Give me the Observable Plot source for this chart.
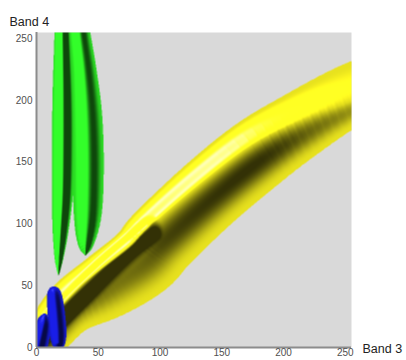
<!DOCTYPE html>
<html><head><meta charset="utf-8">
<script src="https://cdn.jsdelivr.net/npm/d3@7"></script>
<script src="https://cdn.jsdelivr.net/npm/@observablehq/plot@0.6"></script>
<style>body{margin:0;background:#fff} #chart{width:406px;height:360px}</style>
</head><body><div id="chart"></div>
<script>
// ---- data, in Band 3 / Band 4 units ----
const xTicks = [0, 50, 100, 150, 200, 250];
const yTicks = [0, 50, 100, 150, 200, 250];
const xLabel = "Band 3";
const yLabel = "Band 4";
const xDomain = [0, 255];
const yDomain = [0, 255];
// ridge vertices of each class density:
// [band3, band4, spread on upper-left side, spread on lower-right side, relative density]
const greenLeft = [[17.8,59,0.5,0.5,0.3],[18.2,72,3.5,3.5,0.7],[19.5,95,6.5,6.5,0.9],[21,125,8.5,8.5,1],[21.5,165,9,9,1],[21.5,205,8.5,8.5,1],[21,253,6.5,6.5,0.9],[20.5,285,5,5,0.8]];
const greenRight = [[39.5,75,0.5,0.5,0.2],[40,86,7,7,0.45],[41.5,110,11.5,11.5,0.6],[42,150,12.5,12.5,0.65],[41,190,12,12,0.65],[38.5,225,10,10,0.6],[35,255,8.5,8.5,0.55],[32.5,285,6.5,6.5,0.5]];
const yellowMain = [[-6.5,-5.6,12,14,0.35],[0,5.6,13,22,0.45],[21.9,37.8,14,30,0.55],[49.4,60.3,14.5,40,0.6],[76.1,80.5,15.5,44,0.75],[92.3,98.2,16.5,44,0.95],[132.8,132.8,19.2,41,1],[173.3,163.3,21,38.5,0.95],[213.8,183.5,24.5,30,0.5],[254.3,199,30,20,0.2],[294.7,215,30,18,0.15]];
const yellowLower = [[2,12,8,14,0.35],[7.3,19.7,9,18,0.55],[51.8,66,9,20,0.65],[89.1,98.1,9,18,0.55]];
const blueTall = [[14,46.5,3,3,0.3],[14.5,42,6,6,0.8],[16,28,7,7,1],[17.3,12,7,7,1],[17.8,4,5.5,5.5,0.8]];
const blueCorner = [[1,-1,7.5,7.5,1],[3,8,7.5,7.5,1],[5.5,19,6,6,0.8],[6.5,25,2.5,2.5,0.3]];

// ---- styles ----
const classes = [
  {tubes: [blueTall, blueCorner], base: [22, 26, 200], relief: 3.5, ambient: 0.35, spec: 0.35, combine: "sum"},
  {tubes: [yellowMain, yellowLower], base: [232, 226, 30], relief: 12, ambient: 0.22, spec: 0.7, combine: "sum"},
  {tubes: [greenLeft, greenRight], base: [44, 218, 36], relief: 9, ambient: 0.33, spec: 0.4, combine: "max"}
];

function smooth(pts, n) {
  const P = [pts[0], ...pts, pts[pts.length - 1]];
  const out = [];
  for (let i = 1; i < P.length - 2; i++) {
    for (let s = 0; s < n; s++) {
      const t = s / n, t2 = t * t, t3 = t2 * t;
      out.push(P[i].map((_, k) => 0.5 * (2 * P[i][k] + (-P[i - 1][k] + P[i + 1][k]) * t
        + (2 * P[i - 1][k] - 5 * P[i][k] + 4 * P[i + 1][k] - P[i + 2][k]) * t2
        + (-P[i - 1][k] + 3 * P[i][k] - 3 * P[i + 1][k] + P[i + 2][k]) * t3)));
    }
  }
  out.push(pts[pts.length - 1]);
  for (const p of out) { p[2] = Math.max(p[2], 0.3); p[3] = Math.max(p[3], 0.3); p[4] = Math.max(p[4], 0.05); }
  return out;
}
function segments(pts) {
  const sm = smooth(pts, 6);
  const segs = [];
  for (let i = 0; i < sm.length - 1; i++) {
    const a = sm[i], b = sm[i + 1];
    const dx = b[0] - a[0], dy = b[1] - a[1];
    const len2 = dx * dx + dy * dy;
    if (len2 < 1e-9) continue;
    const w = Math.max(a[2], a[3], b[2], b[3]);
    segs.push({a, b, dx, dy, len2, len: Math.sqrt(len2),
      x0: Math.min(a[0], b[0]) - w, x1: Math.max(a[0], b[0]) + w,
      y0: Math.min(a[1], b[1]) - w, y1: Math.max(a[1], b[1]) + w});
  }
  return segs;
}
for (const c of classes) {
  c.segs = c.tubes.map(segments);
  c.box = [Infinity, -Infinity, Infinity, -Infinity];
  for (const S of c.segs) for (const s of S) {
    c.box[0] = Math.min(c.box[0], s.x0); c.box[1] = Math.max(c.box[1], s.x1);
    c.box[2] = Math.min(c.box[2], s.y0); c.box[3] = Math.max(c.box[3], s.y1);
  }
}
const norm = v => { const m = Math.hypot(...v); return v.map(u => u / m); };
const L = norm([-0.6, 0.65, 0.5]);
const Hv = norm([-0.55, 0.6, 0.85]);

function tubeZ(segs, x, y) {
  let best = 0;
  for (const s of segs) {
    if (x < s.x0 || x > s.x1 || y < s.y0 || y > s.y1) continue;
    const a = s.a, b = s.b;
    let t = ((x - a[0]) * s.dx + (y - a[1]) * s.dy) / s.len2;
    const perp = (s.dx * (y - a[1]) - s.dy * (x - a[0])) / s.len;
    let along = 0;
    if (t < 0) { along = -t * s.len; t = 0; } else if (t > 1) { along = (t - 1) * s.len; t = 1; }
    const wu = a[2] + t * (b[2] - a[2]);
    const wd = a[3] + t * (b[3] - a[3]);
    const h = a[4] + t * (b[4] - a[4]);
    const ws = perp > 0 ? wu : wd;
    const cw = (wu + wd) / 2;
    const d2 = (along / cw) ** 2 + (perp / ws) ** 2;
    if (d2 < 1) {
      const q = 1 - d2, q2 = q * q;
      const z = h * q2 * q2;
      if (z > best) best = z;
    }
  }
  return best;
}
function classZ(c, x, y) {
  const b = c.box;
  if (x < b[0] || x > b[1] || y < b[2] || y > b[3]) return 0;
  let s = 0;
  for (const S of c.segs) {
    const z = tubeZ(S, x, y);
    s = c.combine === "max" ? Math.max(s, z) : s + z;
  }
  return s * c.relief;
}
function shadeAt(x, y) {
  for (const c of classes) {
    const z = classZ(c, x, y);
    if (z > 0) {
      const e = 0.35;
      const zx = (classZ(c, x + e, y) - classZ(c, x - e, y)) / (2 * e);
      const zy = (classZ(c, x, y + e) - classZ(c, x, y - e)) / (2 * e);
      const nn = Math.hypot(zx, zy, 1);
      const n = [-zx / nn, -zy / nn, 1 / nn];
      const ndl = n[0] * L[0] + n[1] * L[1] + n[2] * L[2];
      const f = Math.min(Math.max(0, ndl) / L[2], 1.25);
      const k = c.ambient + (1 - c.ambient) * f;
      const ndh = Math.max(0, n[0] * Hv[0] + n[1] * Hv[1] + n[2] * Hv[2]);
      const s = c.spec * Math.pow(ndh, 70);
      const r = Math.min(255, c.base[0] * k + 255 * s);
      const g = Math.min(255, c.base[1] * k + 255 * s);
      const bl = Math.min(255, c.base[2] * k + 220 * s);
      return `rgb(${r | 0},${g | 0},${bl | 0})`;
    }
  }
  return null;
}

const chart = Plot.plot({
  width: 406, height: 360,
  marginLeft: 36, marginRight: 55, marginTop: 32, marginBottom: 13,
  x: {domain: xDomain},
  y: {domain: yDomain},
  color: {type: "identity"},
  style: {fontFamily: "'Liberation Sans', Arial, sans-serif", fontSize: "10px", color: "#505050", background: "#fff"},
  marks: [
    Plot.frame({fill: "#d9d9d9", stroke: null}),
    Plot.raster({x1: xDomain[0], x2: xDomain[1], y1: yDomain[0], y2: yDomain[1], fill: shadeAt, pixelSize: 0.5, imageRendering: "auto"}),
    Plot.ruleX([0], {stroke: "#8c8c8c", strokeWidth: 2}),
    Plot.ruleY([0], {stroke: "#8c8c8c", strokeWidth: 2}),
    Plot.axisX(xTicks, {tickSize: 0, tickPadding: 1, label: null}),
    Plot.axisY(yTicks, {tickSize: 0, tickPadding: 4, label: null}),
    Plot.text([yLabel], {frameAnchor: "top-left", dx: -27, dy: -15, textAnchor: "start", fontSize: 12.5, fill: "#222"}),
    Plot.text([xLabel], {frameAnchor: "bottom-right", dx: 11, dy: 5, textAnchor: "start", fontSize: 12.5, fill: "#222"})
  ]
});
document.getElementById("chart").appendChild(chart);
</script>
</body></html>
